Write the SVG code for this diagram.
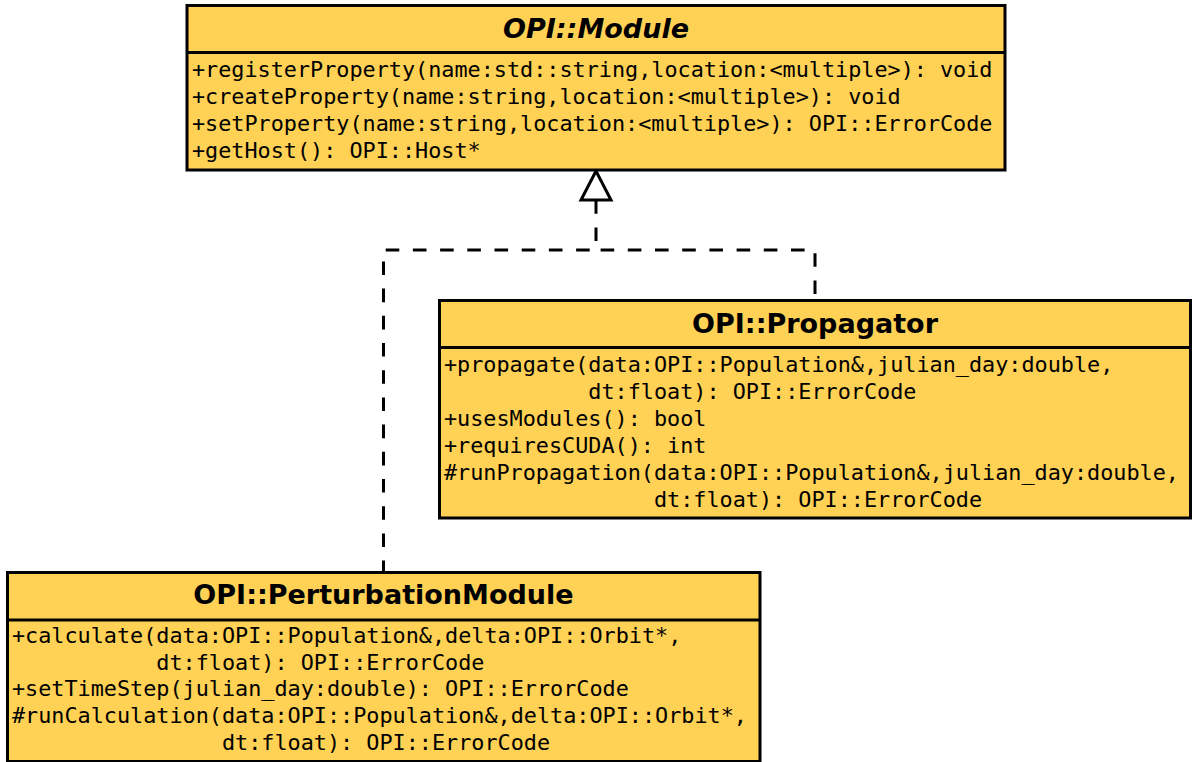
<svg xmlns="http://www.w3.org/2000/svg" width="1195" height="762" viewBox="0 0 1195 762">
  <style>
    .box { fill: #FFD154; stroke: #000; stroke-width: 3; }
    .sep { stroke: #000; stroke-width: 3; }
    .title { font-family: "DejaVu Sans", "Liberation Sans", sans-serif; font-weight: bold; font-size: 27px; text-anchor: middle; fill: #000; }
    .abstract { font-style: italic; }
    .member { font-family: "DejaVu Sans Mono", "Liberation Mono", monospace; font-size: 21.8px; fill: #000; white-space: pre; }
    .realize { fill: none; stroke: #000; stroke-width: 3; stroke-dasharray: 13.6 13.6; }
    .head { fill: #fff; stroke: #000; stroke-width: 3; stroke-linejoin: miter; }
  </style>

  <rect width="1195" height="762" fill="#fff"/>

  <!-- realization connectors -->
  <g id="connectors">
    <path class="realize" d="M815 300 V250 H596 V200" stroke-dashoffset="21.2"/>
    <path class="realize" d="M383.5 572 V250 H596" stroke-dashoffset="2.2"/>
    <polygon class="head" points="596,171 581,200 611,200"/>
  </g>

  <!-- abstract base class -->
  <g id="module">
    <rect class="box" x="187" y="5.5" width="818" height="164.5"/>
    <line class="sep" x1="187" y1="52.5" x2="1005" y2="52.5"/>
    <text class="title abstract" x="596" y="37.5">OPI::Module</text>
    <text class="member" x="192" y="77" xml:space="preserve">+registerProperty(name:std::string,location:&lt;multiple&gt;): void</text>
    <text class="member" x="192" y="104" xml:space="preserve">+createProperty(name:string,location:&lt;multiple&gt;): void</text>
    <text class="member" x="192" y="131" xml:space="preserve">+setProperty(name:string,location:&lt;multiple&gt;): OPI::ErrorCode</text>
    <text class="member" x="192" y="158" xml:space="preserve">+getHost(): OPI::Host*</text>
  </g>

  <g id="propagator">
    <rect class="box" x="439.5" y="300.5" width="751" height="217.5"/>
    <line class="sep" x1="439.5" y1="347.5" x2="1190.5" y2="347.5"/>
    <text class="title" x="815" y="332.5">OPI::Propagator</text>
    <text class="member" x="444" y="372" xml:space="preserve">+propagate(data:OPI::Population&amp;,julian_day:double,</text>
    <text class="member" x="444" y="399" xml:space="preserve">           dt:float): OPI::ErrorCode</text>
    <text class="member" x="444" y="426" xml:space="preserve">+usesModules(): bool</text>
    <text class="member" x="444" y="453" xml:space="preserve">+requiresCUDA(): int</text>
    <text class="member" x="444" y="480" xml:space="preserve">#runPropagation(data:OPI::Population&amp;,julian_day:double,</text>
    <text class="member" x="444" y="507" xml:space="preserve">                dt:float): OPI::ErrorCode</text>
  </g>

  <g id="perturbation-module">
    <rect class="box" x="7.5" y="572.5" width="752.5" height="189"/>
    <line class="sep" x1="7.5" y1="620" x2="760" y2="620"/>
    <text class="title" x="383.5" y="604">OPI::PerturbationModule</text>
    <text class="member" x="12" y="642.5" xml:space="preserve">+calculate(data:OPI::Population&amp;,delta:OPI::Orbit*,</text>
    <text class="member" x="12" y="669.5" xml:space="preserve">           dt:float): OPI::ErrorCode</text>
    <text class="member" x="12" y="696" xml:space="preserve">+setTimeStep(julian_day:double): OPI::ErrorCode</text>
    <text class="member" x="12" y="722.5" xml:space="preserve">#runCalculation(data:OPI::Population&amp;,delta:OPI::Orbit*,</text>
    <text class="member" x="12" y="749.5" xml:space="preserve">                dt:float): OPI::ErrorCode</text>
  </g>
</svg>
